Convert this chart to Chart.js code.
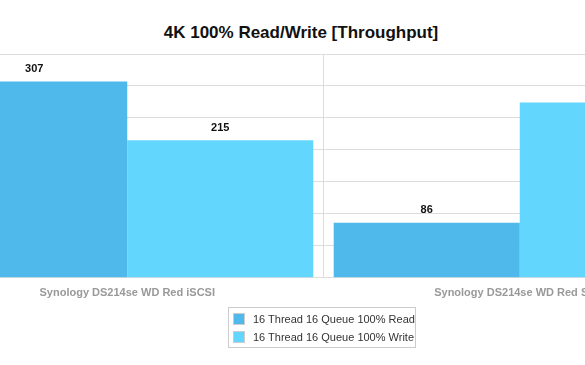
<!DOCTYPE html>
<html>
<head>
<meta charset="utf-8">
<script src="https://cdn.jsdelivr.net/npm/chart.js@4/dist/chart.umd.min.js"></script>
<style>
    body { margin: 0; background: #fff; }
    #wrap { position: relative; width: 585px; height: 365px; overflow: hidden; font-family: "Liberation Sans", Helvetica, Arial, sans-serif; }
    #title { position: absolute; left: 0; top: 23px; width: 602px; text-align: center; font-weight: bold; font-size: 17px; line-height: 19px; color: #111; }
    #plot { position: absolute; left: -69px; top: 44px; width: 785px; height: 265px; }
    #legend { position: absolute; left: 228px; top: 307px; width: 186px; border: 1px solid #ccc; padding: 2px 0 1px 0; font-size: 11px; color: #333; }
    #legend .item { height: 18px; line-height: 18px; padding-left: 4px; white-space: nowrap; }
    #legend .box { display: inline-block; width: 10px; height: 10px; border: 1px solid #ccc; vertical-align: -2px; margin-right: 8px; }
</style>
</head>
<body>
<div id="wrap">
    <div id="title">4K 100% Read/Write [Throughput]</div>
    <div id="plot"><canvas id="chart-throughput"></canvas></div>
    <div id="legend"></div>
</div>
<script>
const CATEGORIES = ['Synology DS214se WD Red iSCSI', 'Synology DS214se WD Red SMB'];
const READ_DATA = [307, 86];
const WRITE_DATA = [215, 274];
const Y_TICKS = [0, 50, 100, 150, 200, 250, 300, 350];

// draws the value above each bar
const valueLabels = {
    id: 'valueLabels',
    afterDatasetsDraw(chart) {
        const ctx = chart.ctx;
        ctx.save();
        ctx.font = 'bold 11px "Liberation Sans", Helvetica, Arial, sans-serif';
        ctx.fillStyle = '#111';
        ctx.textAlign = 'center';
        ctx.textBaseline = 'bottom';
        chart.data.datasets.forEach(function(ds, i) {
            chart.getDatasetMeta(i).data.forEach(function(bar, j) {
                ctx.fillText(ds.data[j], bar.x, bar.y - 7);
            });
        });
        ctx.restore();
    }
};

var domChart = document.getElementById('chart-throughput');
var chart = new Chart(domChart, {
    type: 'bar',
    data: {
        labels: CATEGORIES,
        datasets: [
            {
                label: '16 Thread 16 Queue 100% Read',
                backgroundColor: '#4fb9ec',
                borderWidth: 0,
                data: READ_DATA
            },
            {
                label: '16 Thread 16 Queue 100% Write',
                backgroundColor: '#63d6fe',
                borderWidth: 0,
                data: WRITE_DATA
            }
        ]
    },
    options: {
        responsive: true,
        maintainAspectRatio: false,
        animation: false,
        layout: { padding: { top: 10, left: 0, right: 0, bottom: 0 } },
        categoryPercentage: 0.948,
        barPercentage: 1,
        plugins: {
            legend: { display: false },
            title: { display: false },
            tooltip: { enabled: false }
        },
        scales: {
            x: {
                grid: { offset: true, color: '#dddddd', drawTicks: false },
                border: { display: false },
                ticks: {
                    padding: 9,
                    maxRotation: 0,
                    autoSkip: false,
                    color: '#999999',
                    font: { family: '"Liberation Sans", Helvetica, Arial, sans-serif', size: 11, weight: 'bold' }
                }
            },
            y: {
                min: Y_TICKS[0],
                max: Y_TICKS[Y_TICKS.length - 1],
                afterBuildTicks: function(axis) {
                    axis.ticks = Y_TICKS.map(function(v) { return { value: v }; });
                },
                grid: { color: '#dddddd', drawTicks: false },
                border: { display: false },
                ticks: { display: false }
            }
        }
    },
    plugins: [valueLabels]
});

// legend built from the datasets
var legend = document.getElementById('legend');
chart.data.datasets.forEach(function(ds) {
    var item = document.createElement('div');
    item.className = 'item';
    var box = document.createElement('span');
    box.className = 'box';
    box.style.background = ds.backgroundColor;
    item.appendChild(box);
    item.appendChild(document.createTextNode(ds.label));
    legend.appendChild(item);
});
</script>
</body>
</html>
